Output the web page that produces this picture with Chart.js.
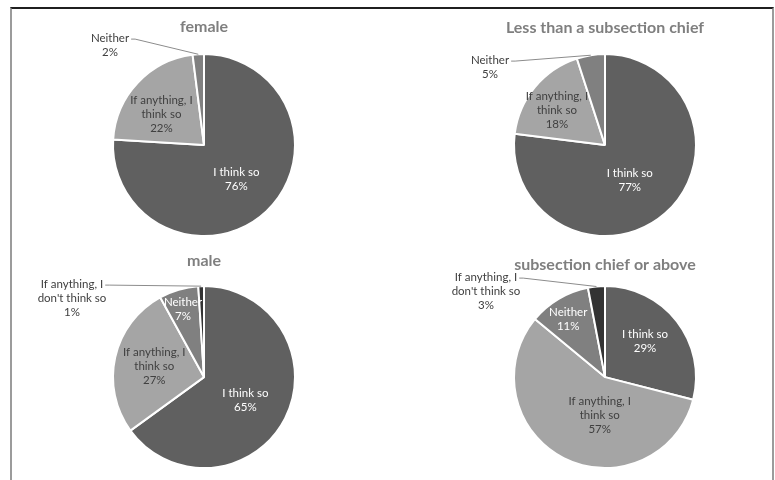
<!DOCTYPE html>
<html>
<head>
<meta charset="utf-8">
<script src="https://cdn.jsdelivr.net/npm/chart.js@4.4.1/dist/chart.umd.min.js"></script>
<style>
  html, body { margin: 0; padding: 0; background: #fff; width: 775px; height: 480px; overflow: hidden; position: relative; }
  .frame {
    position: absolute; left: 10px; top: 7px; width: 764px; height: 480px; box-sizing: border-box;
    border-top: 2px solid #1f1f1f; border-left: 2px solid #9b9b9b; border-right: 2px solid #9b9b9b;
  }
  canvas { position: absolute; }
</style>
</head>
<body>
<div class="frame"></div>
<canvas id="pieFemale" width="384" height="245" style="left:12px;top:9px"></canvas>
<canvas id="pieBelowChief" width="330" height="244" style="left:440px;top:9px"></canvas>
<canvas id="pieMale" width="384" height="244" style="left:12px;top:240px"></canvas>
<canvas id="pieChiefOrAbove" width="330" height="240" style="left:440px;top:240px"></canvas>
<script>
// ── Answer categories (multi-line labels) ──
const CATEGORIES = [
  ["I think so"],
  ["If anything, I", "think so"],
  ["Neither"],
  ["If anything, I", "don't think so"],
];

// ── Share of answers per group, % ──
const FEMALE = [76, 22, 2, 0];
const BELOW_CHIEF = [77, 18, 5, 0];
const MALE = [65, 27, 7, 1];
const CHIEF_OR_ABOVE = [29, 57, 11, 3];

const TITLES = ["female", "Less than a subsection chief", "male", "subsection chief or above"];

const SLICE_COLORS = ["#606060", "#a5a5a5", "#808080", "#333333"];
const LABEL_COLORS = ["#ffffff", "#404040", "#ffffff", "#404040"];
const LINE_H = 14;

Chart.defaults.font.family = "Lato, 'Open Sans', sans-serif";

// ── Data labels: inside the slice, or outside with a leader line ──
// place[i] = { r, shift } puts the label along the slice middle (r = fraction of radius,
// shift = degrees), { dx, dy } puts it outside relative to the pie centre.
function sliceLabels(place) {
  return {
    id: "sliceLabels",
    afterDatasetsDraw(chart) {
      const { ctx } = chart;
      const meta = chart.getDatasetMeta(0);
      const values = chart.data.datasets[0].data;
      ctx.save();
      ctx.font = "11.5px Lato, 'Open Sans', sans-serif";
      ctx.textAlign = "center";
      ctx.textBaseline = "middle";
      meta.data.forEach((arc, i) => {
        if (!values[i]) return;
        const p = place[i] || {};
        const { x, y, startAngle, endAngle, outerRadius } =
          arc.getProps(["x", "y", "startAngle", "endAngle", "outerRadius"], true);
        const mid = (startAngle + endAngle) / 2;
        const lines = [...CATEGORIES[i], values[i] + "%"];
        const outside = typeof p.dx === "number";
        let cx, cy;
        if (outside) {
          cx = x + p.dx;
          cy = y + p.dy;
        } else {
          const a = mid + (p.shift || 0) * Math.PI / 180;
          const r = outerRadius * (p.r || 0.5);
          cx = x + Math.cos(a) * r;
          cy = y + Math.sin(a) * r;
        }
        const top = cy - (lines.length - 1) * LINE_H / 2;
        if (outside) {
          const w = ctx.measureText(lines[0]).width;
          const lx = cx + w / 2 + 2, ly = top + 1;
          ctx.beginPath();
          ctx.moveTo(lx, ly);
          ctx.lineTo(lx + 4, ly);
          ctx.lineTo(x + Math.cos(mid) * outerRadius, y + Math.sin(mid) * outerRadius);
          ctx.strokeStyle = "#8c8c8c";
          ctx.lineWidth = 1;
          ctx.stroke();
        }
        ctx.fillStyle = outside ? "#404040" : LABEL_COLORS[i];
        lines.forEach((t, k) => ctx.fillText(t, cx, top + k * LINE_H));
      });
      ctx.restore();
    }
  };
}

function buildPie(id, values, title, titleTop, place) {
  const el = document.getElementById(id);
  if (!el) return;
  return new Chart(el, {
    type: "pie",
    data: {
      labels: CATEGORIES,
      datasets: [{
        data: values,
        backgroundColor: SLICE_COLORS,
        borderColor: "#ffffff",
        borderWidth: 2,
      }]
    },
    options: {
      responsive: false,
      animation: false,
      events: [],
      radius: 91,
      plugins: {
        legend: { display: false },
        tooltip: { enabled: false },
        title: {
          display: true,
          text: title,
          color: "#7f7f7f",
          font: { size: 16, weight: "bold" },
          padding: { top: titleTop, bottom: 0 },
        },
      }
    },
    plugins: [sliceLabels(place)],
  });
}

buildPie("pieFemale", FEMALE, TITLES[0], 8, [
  { r: 0.52 }, { r: 0.58, shift: -7 }, { dx: -94, dy: -100 }, {}
]);
buildPie("pieBelowChief", BELOW_CHIEF, TITLES[1], 9, [
  { r: 0.47, shift: 6 }, { r: 0.65, shift: -4 }, { dx: -115, dy: -78 }, {}
]);
buildPie("pieMale", MALE, TITLES[2], 11, [
  { r: 0.52, shift: 2 }, { r: 0.56 }, { r: 0.78, shift: -1 }, { dx: -132, dy: -79 }
]);
buildPie("pieChiefOrAbove", CHIEF_OR_ABOVE, TITLES[3], 15, [
  { r: 0.59, shift: -4 }, { r: 0.42, shift: -19 }, { r: 0.75, shift: -2 }, { dx: -119, dy: -86 }
]);
</script>
</body>
</html>
